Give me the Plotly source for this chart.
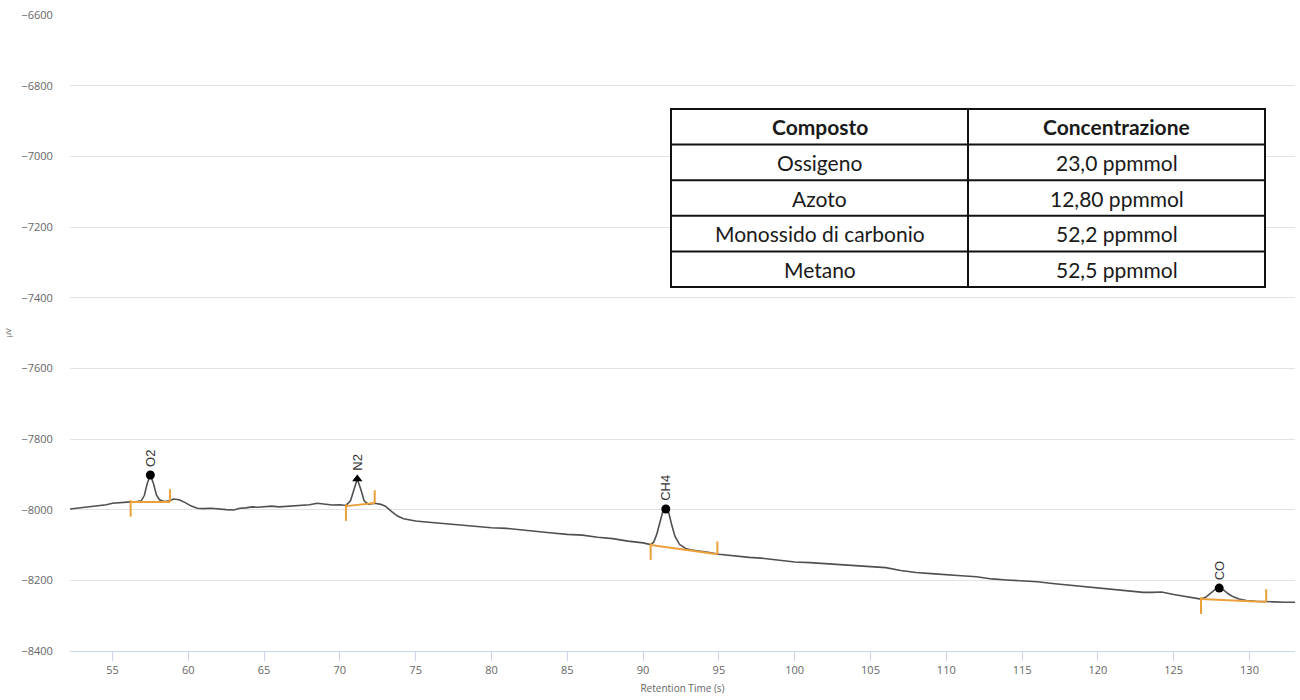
import plotly.graph_objects as go

# Chromatogram signal (retention time in s, detector signal in µV)
rt = [52.2, 52.6, 53.0, 53.4, 53.8, 54.2, 54.6, 55.0, 55.4, 55.8, 56.2, 56.6, 56.9,
      57.1, 57.3, 57.5, 57.7, 57.9, 58.1, 58.4, 58.8, 59.0, 59.4, 59.8, 60.2, 60.6,
      61.0, 61.5, 62.0, 62.5, 63.0, 63.4, 63.8, 64.2, 64.6, 65.0, 65.5, 66.0, 66.5,
      67.0, 67.5, 68.0, 68.5, 69.0, 69.5, 70.0, 70.4, 70.7, 70.9, 71.15, 71.4, 71.6,
      71.9, 72.3, 72.7, 73.0, 73.4, 73.8, 74.2, 74.6, 75.0, 75.5, 76.0, 77.0, 78.0,
      79.0, 80.0, 81.0, 82.0, 83.0, 84.0, 85.0, 86.0, 87.0, 88.0, 89.0, 90.0, 90.5,
      90.7, 90.9, 91.1, 91.3, 91.5, 91.7, 91.9, 92.1, 92.4, 92.8, 93.2, 93.8, 94.4,
      95.0, 96.0, 97.0, 98.0, 99.0, 100.0, 101.0, 102.0, 103.0, 104.0, 105.0, 106.0,
      107.0, 108.0, 109.0, 110.0, 111.0, 112.0, 113.0, 114.0, 115.0, 116.0, 117.0,
      118.0, 119.0, 120.0, 121.0, 122.0, 123.0, 123.6, 124.2, 125.0, 126.0, 126.8,
      127.1, 127.4, 127.7, 128.0, 128.3, 128.6, 128.9, 129.3, 129.8, 130.4, 131.1,
      131.6, 132.3, 133.0]
signal = [-7998, -7996, -7994, -7993, -7991, -7989, -7986, -7982, -7980, -7979, -7978, -7977, -7975,
          -7960, -7925, -7902, -7925, -7958, -7972, -7977, -7975, -7970, -7972, -7980, -7990, -7996,
          -7997, -7996, -7999, -8000, -8001, -7996, -7995, -7992, -7993, -7991, -7990, -7992, -7991,
          -7990, -7989, -7986, -7982, -7985, -7987, -7986, -7988, -7975, -7945, -7913, -7945, -7975,
          -7985, -7982, -7985, -7990, -8005, -8018, -8026, -8030, -8032, -8034, -8036, -8038, -8043,
          -8047, -8051, -8053, -8058, -8062, -8066, -8070, -8072, -8078, -8082, -8089, -8094, -8099,
          -8092, -8070, -8035, -8005, -7998, -8010, -8045, -8075, -8098, -8110, -8114, -8117, -8121,
          -8126, -8131, -8135, -8138, -8143, -8148, -8150, -8153, -8156, -8158, -8160, -8164,
          -8172, -8178, -8181, -8185, -8187, -8190, -8196, -8199, -8201, -8204, -8209,
          -8213, -8218, -8222, -8226, -8230, -8234, -8234, -8233, -8240, -8247, -8253,
          -8248, -8238, -8227, -8222, -8228, -8238, -8246, -8253, -8257, -8259, -8261,
          -8261, -8262, -8262]

# Identified peaks
peak_names = ["O2", "N2", "CH4", "CO"]
peak_rt = [57.5, 71.15, 91.5, 128.0]
peak_top = [-7902, -7913, -7998, -8222]
peak_symbols = ["circle", "triangle-up", "circle", "circle"]

# Integration baselines (start / end of each peak)
base_start_rt = [56.2, 70.4, 90.5, 126.8]
base_start_val = [-7978, -7990, -8100, -8253]
base_end_rt = [58.8, 72.3, 94.9, 131.1]
base_end_val = [-7978, -7981, -8126, -8261]

# Results table
composti = ["Ossigeno", "Azoto", "Monossido di carbonio", "Metano"]
concentrazioni = ["23,0 ppmmol", "12,80 ppmmol", "52,2 ppmmol", "52,5 ppmmol"]
table_header = ["Composto", "Concentrazione"]

y_ticks = list(range(-8400, -6599, 200))
x_ticks = list(range(55, 131, 5))

ORANGE = "#EBA03A"
TICK_DOWN = 42   # marker length below baseline start (µV)
TICK_UP = 36     # marker length above baseline end (µV)

fig = go.Figure()

fig.add_trace(go.Scatter(
    x=rt, y=signal, mode="lines",
    line=dict(color="#505050", width=1.6),
    hoverinfo="skip", showlegend=False,
))

# Baselines with start/end markers
bx, by = [], []
for xs, ys, xe, ye in zip(base_start_rt, base_start_val, base_end_rt, base_end_val):
    bx += [xs, xs, None, xs, xe, None, xe, xe, None]
    by += [ys + 5, ys - TICK_DOWN, None, ys, ye, None, ye + TICK_UP, ye, None]
fig.add_trace(go.Scatter(
    x=bx, y=by, mode="lines",
    line=dict(color=ORANGE, width=2),
    hoverinfo="skip", showlegend=False,
))

fig.add_trace(go.Scatter(
    x=peak_rt, y=peak_top, mode="markers",
    marker=dict(color="black", size=9, symbol=peak_symbols),
    showlegend=False,
))

for name, x, y in zip(peak_names, peak_rt, peak_top):
    fig.add_annotation(
        x=x, y=y, text=name, textangle=-90, showarrow=False,
        yanchor="bottom", yshift=6,
        font=dict(family="Liberation Sans", size=13, color="#333333"),
    )

# Table overlay, drawn in paper coordinates
PLOT_L, PLOT_W, PLOT_T, PLOT_H = 70, 1225, 15, 636


def px_x(p):
    return (p - PLOT_L) / PLOT_W


def px_y(p):
    return 1 - (p - PLOT_T) / PLOT_H


tab_left, tab_mid, tab_right = 671, 968, 1265
tab_top, row_h = 109, 35.6
n_rows = len(composti) + 1
tab_bottom = tab_top + row_h * n_rows

fig.add_shape(type="rect", xref="paper", yref="paper",
              x0=px_x(tab_left), x1=px_x(tab_right),
              y0=px_y(tab_bottom), y1=px_y(tab_top),
              line=dict(color="#111111", width=2), fillcolor="white", layer="above")
fig.add_shape(type="line", xref="paper", yref="paper",
              x0=px_x(tab_mid), x1=px_x(tab_mid),
              y0=px_y(tab_bottom), y1=px_y(tab_top),
              line=dict(color="#111111", width=2), layer="above")
for i in range(1, n_rows):
    yy = px_y(tab_top + row_h * i)
    fig.add_shape(type="line", xref="paper", yref="paper",
                  x0=px_x(tab_left), x1=px_x(tab_right), y0=yy, y1=yy,
                  line=dict(color="#111111", width=2), layer="above")

rows = [table_header] + [[c, v] for c, v in zip(composti, concentrazioni)]
for i, (c1, c2) in enumerate(rows):
    yc = px_y(tab_top + row_h * (i + 0.5))
    fam = "Lato Black" if i == 0 else "Lato"
    for txt, xc in ((c1, (tab_left + tab_mid) / 2), (c2, (tab_mid + tab_right) / 2)):
        fig.add_annotation(
            xref="paper", yref="paper", x=px_x(xc), y=yc,
            text=f"<b>{txt}</b>" if i == 0 else txt,
            showarrow=False, xanchor="center", yanchor="middle",
            font=dict(family="Lato", size=21, color="#1a1a1a"),
        )

fig.update_layout(
    width=1300, height=700,
    margin=dict(l=70, r=5, t=15, b=49),
    paper_bgcolor="white", plot_bgcolor="white",
    font=dict(family="Open Sans", color="#666666"),
    xaxis=dict(
        range=[52.2, 133], tickvals=x_ticks, showgrid=False, zeroline=False,
        showline=True, linecolor="#ccd6eb", linewidth=1,
        ticks="outside", ticklen=9, tickcolor="#ccd6eb",
        tickfont=dict(family="Open Sans", size=11, color="#666666"),
        title=dict(text="Retention Time (s)", standoff=8,
                   font=dict(family="Open Sans", size=10, color="#666666")),
    ),
    yaxis=dict(
        range=[-8400, -6600], tickvals=y_ticks, showgrid=True, gridcolor="#e3e3e3",
        zeroline=False, showline=False,
        ticks="outside", ticklen=14, tickcolor="rgba(0,0,0,0)",
        tickfont=dict(family="Open Sans", size=11, color="#666666"),
        title=dict(text="µV", standoff=8,
                   font=dict(family="Open Sans", size=8, color="#666666")),
    ),
)

fig.write_html("out.html")
